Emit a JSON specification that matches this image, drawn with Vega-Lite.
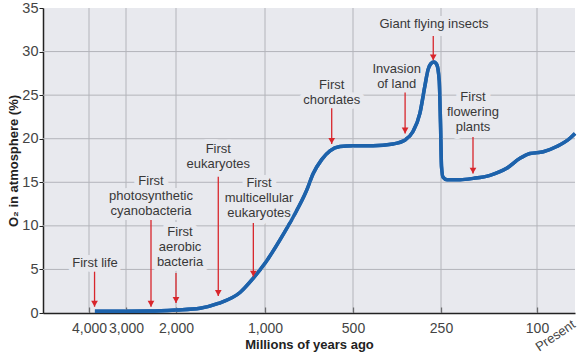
{
  "$schema": "https://vega.github.io/schema/vega-lite/v6.json",
  "width": 532,
  "height": 305,
  "autosize": {"type": "none"},
  "padding": {"left": 43, "top": 8, "right": 6, "bottom": 43},
  "background": "white",
  "config": {
    "view": {"fill": "#e8e9ee", "stroke": null},
    "font": "Liberation Sans",
    "axis": {
      "grid": false,
      "domainColor": "#222", "domainWidth": 1.5,
      "tickColor": "#222", "tickOpacity": 1,
      "labelFont": "Liberation Sans", "labelColor": "#444",
      "titleFont": "Liberation Sans", "titleFontSize": 13, "titleFontWeight": "bold", "titleColor": "#222"
    },
    "axisX": {
      "labelFontSize": 14, "labelPadding": 14, "tickSize": -6, "tickWidth": 1.2,
      "labelFlush": false, "labelOverlap": false, "labelBound": false,
      "titleBaseline": "alphabetic", "titleY": 35.5, "titleX": 266, "titleAlign": "center"
    },
    "axisY": {
      "labelFontSize": 14.5, "labelPadding": 1, "tickSize": 4, "tickWidth": 1,
      "titleAngle": -90, "titleAlign": "center", "titleBaseline": "alphabetic", "titleX": -25.5, "titleY": 152.5
    }
  },
  "datasets": {
    "ygrid": [{"v": 5}, {"v": 10}, {"v": 15}, {"v": 20}, {"v": 25}, {"v": 30}],
    "xgrid": [{"v": 4000}, {"v": 3000}, {"v": 2000}, {"v": 1000}, {"v": 500}, {"v": 250}, {"v": 100}],
    "curve": [
      {"mya": 3840, "o2": 0.2}, {"mya": 3000, "o2": 0.2}, {"mya": 2520, "o2": 0.22},
      {"mya": 2000, "o2": 0.35}, {"mya": 1730, "o2": 0.55}, {"mya": 1525, "o2": 1.1},
      {"mya": 1281, "o2": 2.35}, {"mya": 1131, "o2": 4.0}, {"mya": 1000, "o2": 5.7},
      {"mya": 915, "o2": 8.4}, {"mya": 839, "o2": 11.05}, {"mya": 763, "o2": 14.1},
      {"mya": 726, "o2": 16.0}, {"mya": 678, "o2": 17.6}, {"mya": 631, "o2": 18.6},
      {"mya": 574, "o2": 19.1}, {"mya": 500, "o2": 19.2}, {"mya": 443, "o2": 19.2},
      {"mya": 386, "o2": 19.4}, {"mya": 352, "o2": 19.85}, {"mya": 330, "o2": 20.8},
      {"mya": 310, "o2": 22.9}, {"mya": 296, "o2": 26.0}, {"mya": 287, "o2": 27.9},
      {"mya": 279, "o2": 28.6}, {"mya": 270, "o2": 28.8}, {"mya": 262, "o2": 28.5},
      {"mya": 255, "o2": 26.7}, {"mya": 251.4, "o2": 21.8}, {"mya": 249.2, "o2": 16.8},
      {"mya": 246.9, "o2": 15.6}, {"mya": 240.6, "o2": 15.3}, {"mya": 220, "o2": 15.3},
      {"mya": 199.5, "o2": 15.45}, {"mya": 173.4, "o2": 15.8}, {"mya": 147.4, "o2": 16.6},
      {"mya": 126.6, "o2": 17.75}, {"mya": 111, "o2": 18.3}, {"mya": 83.4, "o2": 18.5},
      {"mya": 48.2, "o2": 19.1}, {"mya": 13.2, "o2": 20.05}, {"mya": 0, "o2": 20.6}
    ],
    "events": [
      {"label": ["First life"], "lx": 3838, "ly": 5.7, "ax": 3850, "ay1": 4.74, "ay2": 0.72},
      {"label": ["First", "photosynthetic", "cyanobacteria"], "lx": 2500, "ly": 15.15, "ax": 2500, "ay1": 10.67, "ay2": 0.72},
      {"label": ["First", "aerobic", "bacteria"], "lx": 1955, "ly": 9.26, "ax": 2000, "ay1": 4.59, "ay2": 1.15},
      {"label": ["First", "eukaryotes"], "lx": 1525, "ly": 18.79, "ax": 1525, "ay1": 15.64, "ay2": 1.95},
      {"label": ["First", "multicellular", "eukaryotes"], "lx": 1067, "ly": 14.95, "ax": 1131, "ay1": 10.33, "ay2": 4.17},
      {"label": ["First", "chordates"], "lx": 621, "ly": 26.16, "ax": 621, "ay1": 23.5, "ay2": 19.4},
      {"label": ["Invasion", "of land"], "lx": 376, "ly": 27.97, "ax": 352, "ay1": 25.3, "ay2": 20.6},
      {"label": ["Giant flying insects"], "lx": 270, "ly": 33.16, "ax": 272, "ay1": 31.8, "ay2": 29.0},
      {"label": ["First", "flowering", "plants"], "lx": 200, "ly": 24.82, "ax": 200, "ay1": 20.2, "ay2": 16.0}
    ],
    "present": [{"mya": 0, "o2": 0, "label": "Present"}]
  },
  "layer": [
    {
      "data": {"name": "curve"},
      "mark": {"type": "line", "color": "#1d62ab", "strokeWidth": 3.5, "interpolate": "monotone", "strokeCap": "butt"},
      "encoding": {
        "x": {
          "field": "mya", "type": "quantitative",
          "scale": {"type": "linear", "domain": [5243, 4000, 3000, 2000, 1000, 500, 250, 100, 0], "range": [0, 46, 83, 133, 222, 310, 398, 494, 532], "zero": false, "nice": false},
          "axis": {
            "title": "Millions of years ago",
            "values": [4000, 3000, 2000, 1000, 500, 250, 100],
            "labelExpr": "datum.value === 4000 ? '4,000 ' : format(datum.value, ',')"
          }
        },
        "y": {
          "field": "o2", "type": "quantitative",
          "scale": {"domain": [0, 35], "zero": false, "nice": false},
          "axis": {
            "title": "O₂ in atmosphere (%)",
            "values": [0, 5, 10, 15, 20, 25, 30, 35]
          }
        },
        "order": {"field": "mya", "sort": "descending"}
      }
    },
    {
      "data": {"name": "ygrid"},
      "mark": {"type": "rule", "stroke": "#b3b4ba", "strokeWidth": 1, "opacity": 1},
      "encoding": {"y": {"field": "v", "type": "quantitative"}}
    },
    {
      "data": {"name": "xgrid"},
      "mark": {"type": "rule", "stroke": "#b3b4ba", "strokeWidth": 1, "opacity": 1},
      "encoding": {"x": {"field": "v", "type": "quantitative"}}
    },
    {
      "data": {"name": "events"},
      "mark": {"type": "text", "fill": "#e8e9ee", "stroke": "#e8e9ee", "strokeWidth": 10, "strokeJoin": "round", "fontSize": 13, "lineHeight": 15, "align": "center", "baseline": "middle", "font": "Liberation Sans"},
      "encoding": {
        "x": {"field": "lx", "type": "quantitative"},
        "y": {"field": "ly", "type": "quantitative"},
        "text": {"field": "label", "type": "nominal"}
      }
    },
    {
      "data": {"name": "curve"},
      "mark": {"type": "line", "color": "#1d62ab", "strokeWidth": 3.5, "interpolate": "monotone", "strokeCap": "butt"},
      "encoding": {
        "x": {"field": "mya", "type": "quantitative"},
        "y": {"field": "o2", "type": "quantitative"},
        "order": {"field": "mya", "sort": "descending"}
      }
    },
    {
      "data": {"name": "events"},
      "mark": {"type": "text", "fill": "#383838", "fontSize": 13, "lineHeight": 15, "align": "center", "baseline": "middle", "font": "Liberation Sans"},
      "encoding": {
        "x": {"field": "lx", "type": "quantitative"},
        "y": {"field": "ly", "type": "quantitative"},
        "text": {"field": "label", "type": "nominal"}
      }
    },
    {
      "data": {"name": "events"},
      "mark": {"type": "rule", "color": "#d8262c", "strokeWidth": 1.3},
      "encoding": {
        "x": {"field": "ax", "type": "quantitative"},
        "y": {"field": "ay1", "type": "quantitative"},
        "y2": {"field": "ay2"}
      }
    },
    {
      "data": {"name": "events"},
      "mark": {"type": "point", "shape": "triangle-down", "filled": true, "color": "#d8262c", "opacity": 1, "size": 45, "yOffset": -3},
      "encoding": {
        "x": {"field": "ax", "type": "quantitative"},
        "y": {"field": "ay2", "type": "quantitative"}
      }
    },
    {
      "data": {"name": "present"},
      "mark": {"type": "text", "fill": "#444", "fontSize": 13, "font": "Liberation Sans", "angle": -34, "align": "right", "baseline": "alphabetic", "dx": -6.5, "dy": 12},
      "encoding": {
        "x": {"field": "mya", "type": "quantitative"},
        "y": {"field": "o2", "type": "quantitative"},
        "text": {"field": "label", "type": "nominal"}
      }
    }
  ]
}
